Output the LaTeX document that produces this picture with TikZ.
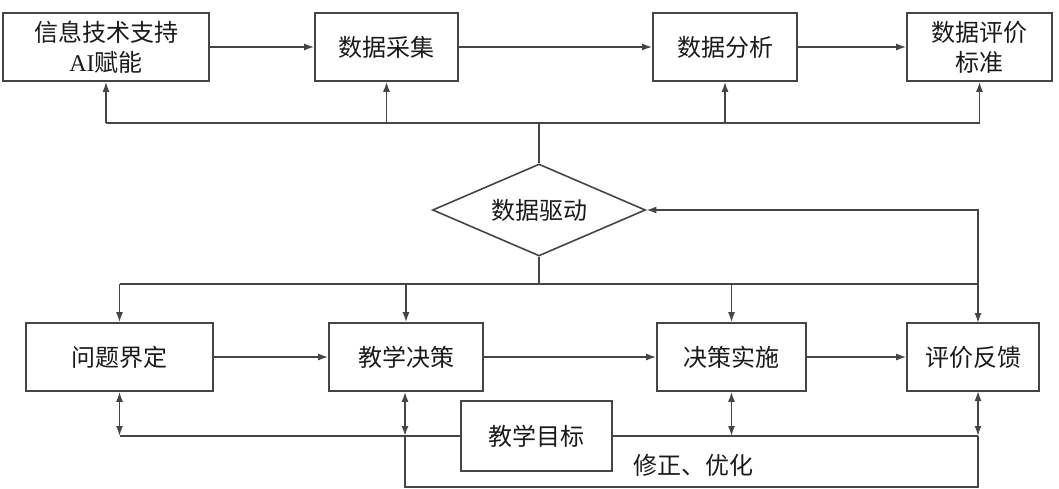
\documentclass[tikz,border=0pt]{standalone}
\usepackage{fontspec}
\setmainfont{Liberation Serif}
\newfontfamily\cjk{Noto Sans CJK SC}
\usetikzlibrary{arrows.meta,shapes.geometric}
\definecolor{ln}{HTML}{454545}
\definecolor{tx}{HTML}{1A1A1A}
\tikzset{
  box/.style={draw=ln,line width=1.6pt,rectangle,minimum height=68pt,inner sep=0pt,
    font=\cjk\fontsize{24}{30}\selectfont,text=tx,align=center},
  conn/.style={draw=ln,line width=1.6pt},
  arr/.style={conn,-{Latex[length=10pt,width=7pt]}},
  darr/.style={conn,{Latex[length=10pt,width=7pt]}-{Latex[length=10pt,width=7pt]}},
}
\begin{document}
\begin{tikzpicture}[x=1pt,y=-1pt]
\useasboundingbox (0,0) rectangle (1059,489);
% top row
\node[box,minimum width=206pt] (b1) at (106,47) {信息技术支持\\{\rmfamily AI}赋能};
\node[box,minimum width=143pt] (b2) at (386.5,47) {数据采集};
\node[box,minimum width=144pt] (b3) at (725,47) {数据分析};
\node[box,minimum width=145pt] (b4) at (979.5,47) {数据评价\\标准};
% diamond
\node[draw=ln,line width=1.6pt,diamond,aspect=2.3,minimum width=213pt,minimum height=92pt,inner sep=0pt,
  font=\cjk\fontsize{24}{30}\selectfont,text=tx] (dia) at (539,210) {数据驱动};
% bottom row
\node[box,minimum width=187pt] (b5) at (119.5,357) {问题界定};
\node[box,minimum width=154pt] (b6) at (406,357) {教学决策};
\node[box,minimum width=149pt] (b7) at (731.5,357) {决策实施};
\node[box,minimum width=132pt] (b8) at (973,357) {评价反馈};
\node[box,minimum width=151pt,minimum height=70pt] (tg) at (536.5,436) {教学目标};
\node[font=\cjk\fontsize{24}{30}\selectfont,text=tx,inner sep=0pt] (lbl) at (693,465) {修正、优化};
% coordinates
\coordinate (ub) at (539,123);
\coordinate (lb) at (539,284);
\coordinate (fb) at (978,210);
\coordinate (l5) at (119.5,436);
\coordinate (l6) at (405,436);
\coordinate (l7) at (731.5,436);
\coordinate (l8) at (978,436);
\coordinate (d6) at (405,487);
\coordinate (d8) at (978,487);
\coordinate (t8) at (978,323);
\coordinate (s8) at (978,391);
% top horizontal arrows
\draw[arr] (b1) -- (b2);
\draw[arr] (b2) -- (b3);
\draw[arr] (b3) -- (b4);
% upper bus
\draw[conn] (dia.north) -- (ub);
\draw[conn] (ub -| b1.south) -- (ub -| b4.south);
\draw[arr] (ub -| b1.south) -- (b1.south);
\draw[arr] (ub -| b2.south) -- (b2.south);
\draw[arr] (ub -| b3.south) -- (b3.south);
\draw[arr] (ub -| b4.south) -- (b4.south);
% lower bus
\draw[conn] (dia.south) -- (lb);
\draw[conn] (lb -| b5.north) -- (lb -| t8);
\draw[arr] (lb -| b5.north) -- (b5.north);
\draw[arr] (lb -| b6.north) -- (b6.north);
\draw[arr] (lb -| b7.north) -- (b7.north);
\draw[arr] (lb -| t8) -- (t8);
% feedback to diamond
\draw[arr] (lb -| t8) -- (fb) -- (dia.east);
% bottom horizontal arrows
\draw[arr] (b5) -- (b6);
\draw[arr] (b6) -- (b7);
\draw[arr] (b7) -- (b8);
% objective line
\draw[conn] (l5) -- (tg.west);
\draw[conn] (tg.east) -- (l8);
\draw[darr] (b5.south) -- (l5);
\draw[darr] (b6.south -| l6) -- (l6);
\draw[darr] (b7.south) -- (l7);
\draw[darr] (s8) -- (l8);
% correction loop
\draw[conn] (l6) -- (d6) -- (d8) -- (l8);
\end{tikzpicture}
\end{document}
